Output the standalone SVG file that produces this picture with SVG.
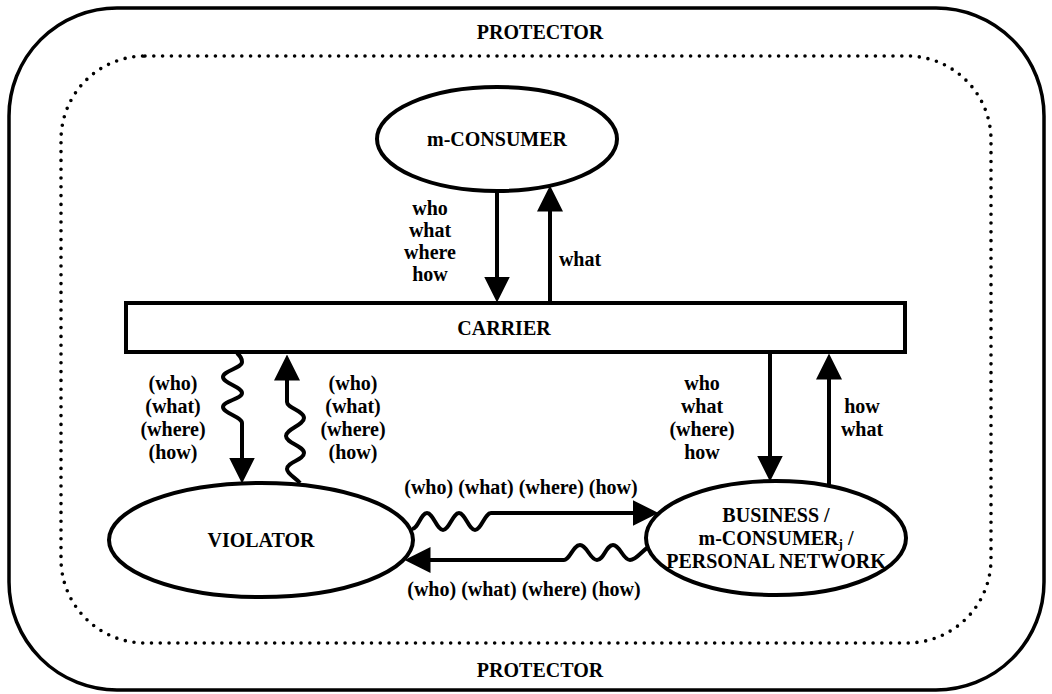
<svg xmlns="http://www.w3.org/2000/svg" width="1052" height="694" viewBox="0 0 1052 694">
  <style>
    .frame { fill: none; stroke: #000; stroke-width: 3.5; }
    .dots { fill: none; stroke: #000; stroke-width: 3.6; stroke-linecap: round; stroke-dasharray: 0 8.8; }
    .node { fill: #fff; stroke: #000; stroke-width: 4; }
    .flow { fill: none; stroke: #000; stroke-width: 4; }
    text { font-family: "Liberation Serif", "Times New Roman", serif; font-weight: bold; font-size: 20px; fill: #000; text-anchor: middle; }
  </style>
  <defs>
    <marker id="head" markerUnits="userSpaceOnUse" markerWidth="26" markerHeight="26" viewBox="0 0 24 24" refX="18" refY="12" orient="auto">
      <path d="M0,0 L24,12 L0,24 z" fill="#000"/>
    </marker>
  </defs>

  <!-- protector boundary -->
  <g id="protector">
    <rect class="frame" x="9" y="8" width="1035" height="682" rx="108" ry="108"/>
    <rect class="dots" x="61" y="56" width="930" height="587" rx="84" ry="84"/>
    <text x="540" y="39">PROTECTOR</text>
    <text x="540" y="677">PROTECTOR</text>
  </g>

  <g id="consumer">
    <ellipse class="node" cx="497" cy="139" rx="120" ry="52"/>
    <text x="497" y="146">m-CONSUMER</text>
  </g>

  <g id="carrier">
    <rect class="node" x="126" y="303" width="779" height="49"/>
    <text x="504" y="335">CARRIER</text>
  </g>

  <g id="violator">
    <ellipse class="node" cx="261" cy="540" rx="152" ry="57"/>
    <text x="261" y="547">VIOLATOR</text>
  </g>

  <g id="business">
    <ellipse class="node" cx="776" cy="538" rx="130" ry="57"/>
    <text x="776" y="522">BUSINESS /</text>
    <text x="776" y="545">m-CONSUMER<tspan font-size="13" dy="3">j</tspan><tspan dy="-3"> /</tspan></text>
    <text x="776" y="568">PERSONAL NETWORK</text>
  </g>

  <g id="connectors">
    <!-- m-CONSUMER <-> CARRIER -->
    <path class="flow" d="M497,191 L497,296" marker-end="url(#head)"/>
    <path class="flow" d="M550,303 L550,192" marker-end="url(#head)"/>
    <!-- CARRIER <-> VIOLATOR (intercepted) -->
    <path class="flow" d="M237,353 C240,356 242,358 242,362 C242,368 223,371 223,377 C223,383 242,387 242,393 C242,399 223,401 223,407 C223,413 242,417 242,423 L242,477" marker-end="url(#head)"/>
    <path class="flow" d="M300,483 C296,478 287,474 287,469 C287,462 304,460 304,453 C304,446 286,443 286,436 C286,429 304,425 304,418 C304,411 287,408 287,402 L287,361" marker-end="url(#head)"/>
    <!-- CARRIER <-> BUSINESS -->
    <path class="flow" d="M770,353 L770,475" marker-end="url(#head)"/>
    <path class="flow" d="M829,486 L829,360" marker-end="url(#head)"/>
    <!-- VIOLATOR <-> BUSINESS -->
    <path class="flow" d="M412,529 C418,529 421,513 427,513 C433,513 437,530 443,530 C449,530 453,513 459,513 C465,513 469,530 475,530 C481,530 485,513 491,513 L652,513" marker-end="url(#head)"/>
    <path class="flow" d="M647,548 C641,552 636,560 630,560 C623,560 620,545 613,545 C606,545 604,560 597,560 C590,560 587,545 580,545 C573,545 570,560 564,560 L411,560" marker-end="url(#head)"/>
  </g>

  <g id="labels">
    <text x="430" y="215">who</text>
    <text x="430" y="237">what</text>
    <text x="430" y="259">where</text>
    <text x="430" y="281">how</text>
    <text x="580" y="266">what</text>

    <text x="173" y="390">(who)</text>
    <text x="173" y="413">(what)</text>
    <text x="173" y="436">(where)</text>
    <text x="173" y="459">(how)</text>

    <text x="353" y="390">(who)</text>
    <text x="353" y="413">(what)</text>
    <text x="353" y="436">(where)</text>
    <text x="353" y="459">(how)</text>

    <text x="702" y="390">who</text>
    <text x="702" y="413">what</text>
    <text x="702" y="436">(where)</text>
    <text x="702" y="459">how</text>

    <text x="862" y="413">how</text>
    <text x="862" y="436">what</text>

    <text x="521" y="494">(who) (what) (where) (how)</text>
    <text x="524" y="596">(who) (what) (where) (how)</text>
  </g>
</svg>
